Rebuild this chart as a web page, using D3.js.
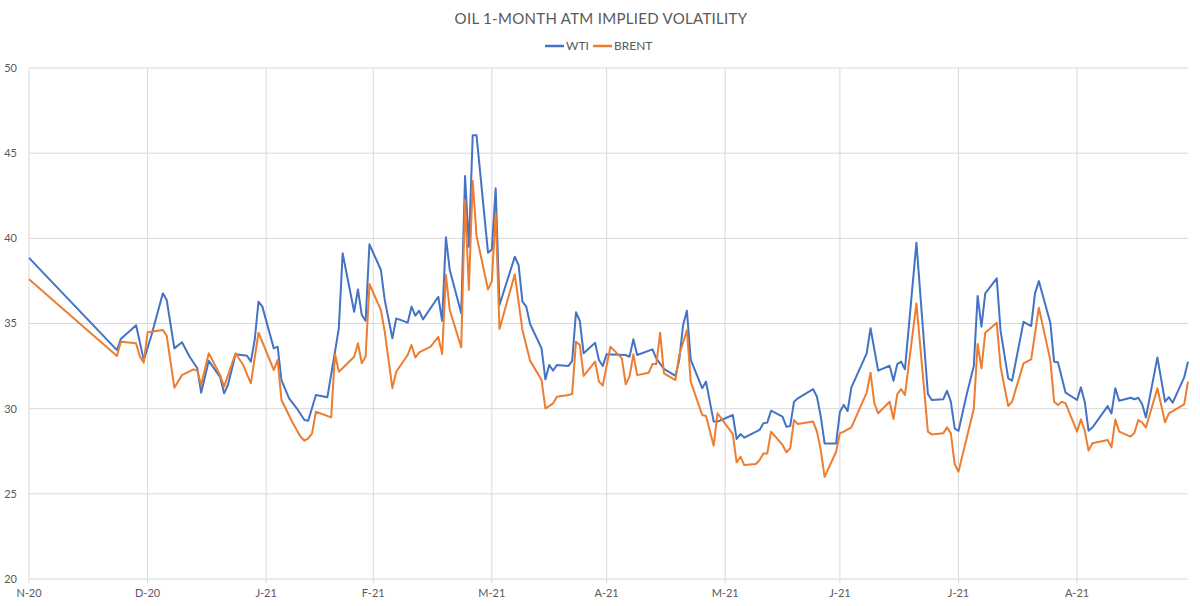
<!DOCTYPE html>
<html>
<head>
<meta charset="utf-8">
<script src="https://cdn.jsdelivr.net/npm/d3@7"></script>
<style>
  html, body { margin: 0; padding: 0; background: #ffffff; }
  svg { display: block; }
  text { font-family: Lato, "Open Sans", "DejaVu Sans", sans-serif; fill: #595959; }
</style>
</head>
<body>
<svg id="chart" width="1200" height="606"></svg>
<script>
// ---------------- DATA ----------------
const chartTitle = "OIL 1-MONTH ATM IMPLIED VOLATILITY";
const seriesNames = ["WTI", "BRENT"];

const xTickDates = ["2020-11-30","2020-12-31","2021-01-31","2021-02-28","2021-03-31","2021-04-30","2021-05-31","2021-06-30","2021-07-31","2021-08-31"];
const xTickLabels = ["N-20","D-20","J-21","F-21","M-21","A-21","M-21","J-21","J-21","A-21"];
const yTicks = [20, 25, 30, 35, 40, 45, 50];

const wtiDates = [
"2020-11-30","2020-12-23","2020-12-24","2020-12-28","2020-12-30","2021-01-01","2021-01-04","2021-01-05","2021-01-07","2021-01-09",
"2021-01-11","2021-01-13","2021-01-14","2021-01-16","2021-01-19","2021-01-20","2021-01-21","2021-01-23","2021-01-26","2021-01-27",
"2021-01-28","2021-01-29","2021-01-30","2021-02-02","2021-02-03","2021-02-04","2021-02-06","2021-02-08","2021-02-10","2021-02-11",
"2021-02-13","2021-02-16","2021-02-18","2021-02-19","2021-02-20","2021-02-23","2021-02-24","2021-02-25","2021-02-26","2021-02-27",
"2021-03-02","2021-03-03","2021-03-05","2021-03-06","2021-03-09","2021-03-10","2021-03-11","2021-03-12","2021-03-13","2021-03-17",
"2021-03-18","2021-03-19","2021-03-20","2021-03-23","2021-03-24","2021-03-25","2021-03-26","2021-03-27","2021-03-30","2021-03-31",
"2021-04-01","2021-04-02","2021-04-06","2021-04-07","2021-04-08","2021-04-09","2021-04-10","2021-04-13","2021-04-14","2021-04-15",
"2021-04-16","2021-04-17","2021-04-20","2021-04-21","2021-04-22","2021-04-23","2021-04-24","2021-04-27","2021-04-28","2021-04-29",
"2021-04-30","2021-05-05","2021-05-06","2021-05-07","2021-05-08","2021-05-12","2021-05-13","2021-05-15","2021-05-18","2021-05-19",
"2021-05-20","2021-05-21","2021-05-22","2021-05-25","2021-05-26","2021-05-28","2021-05-29","2021-06-02","2021-06-03","2021-06-04",
"2021-06-05","2021-06-09","2021-06-10","2021-06-11","2021-06-12","2021-06-15","2021-06-16","2021-06-17","2021-06-18","2021-06-19",
"2021-06-23","2021-06-24","2021-06-25","2021-06-26","2021-06-29","2021-06-30","2021-07-01","2021-07-02","2021-07-03","2021-07-07",
"2021-07-08","2021-07-10","2021-07-13","2021-07-14","2021-07-15","2021-07-16","2021-07-17","2021-07-20","2021-07-23","2021-07-24",
"2021-07-27","2021-07-28","2021-07-29","2021-07-30","2021-07-31","2021-08-02","2021-08-04","2021-08-05","2021-08-06","2021-08-07",
"2021-08-10","2021-08-11","2021-08-13","2021-08-14","2021-08-17","2021-08-19","2021-08-20","2021-08-21","2021-08-24","2021-08-25",
"2021-08-26","2021-08-28","2021-08-31","2021-09-01","2021-09-02","2021-09-03","2021-09-04","2021-09-08","2021-09-09","2021-09-10",
"2021-09-11","2021-09-14","2021-09-15","2021-09-16","2021-09-17","2021-09-18","2021-09-21","2021-09-23","2021-09-24","2021-09-25",
"2021-09-28","2021-09-29"
];
const wtiValues = [
38.85,33.44,34.09,34.9,32.85,34.3,36.77,36.38,33.54,33.9,
33.05,32.37,30.94,32.81,31.85,30.9,31.39,33.19,33.11,32.76,
34.03,36.28,35.99,33.54,33.64,31.68,30.61,30.02,29.33,29.29,
30.8,30.67,33.34,34.72,39.12,35.69,37.0,35.5,35.16,39.65,
38.14,36.38,34.13,35.3,35.05,35.99,35.46,35.75,35.24,36.57,
35.16,40.06,38.14,35.6,43.66,39.51,46.05,46.05,39.16,39.35,
42.94,36.09,38.92,38.43,36.28,35.99,34.97,33.54,31.72,32.56,
32.23,32.56,32.5,32.8,35.66,35.15,33.25,33.87,32.86,32.5,
33.19,33.15,33.05,34.07,33.15,33.48,32.95,32.33,31.92,32.86,
34.91,35.75,32.86,31.2,31.59,29.24,29.24,29.63,28.22,28.51,
28.3,28.75,29.14,29.18,29.88,29.53,28.94,28.98,30.41,30.61,
31.15,30.7,29.53,27.96,27.96,29.82,30.22,29.86,31.25,33.25,
34.72,32.23,32.52,31.64,32.62,32.76,32.31,39.74,30.86,30.51,
30.55,31.05,30.41,28.84,28.69,30.7,32.5,36.62,34.81,36.77,
37.65,34.58,31.78,31.64,35.1,34.85,36.77,37.49,35.05,32.76,
32.72,30.94,30.51,31.25,30.41,28.71,28.89,30.15,29.72,31.2,
30.47,30.64,30.55,30.64,30.27,29.49,33.01,30.41,30.67,30.35,
31.84,32.76
];

const brentDates = [
"2020-11-30","2020-12-23","2020-12-24","2020-12-28","2020-12-29","2020-12-30","2020-12-31","2021-01-04","2021-01-05","2021-01-07",
"2021-01-09","2021-01-12","2021-01-13","2021-01-14","2021-01-16","2021-01-19","2021-01-20","2021-01-23","2021-01-25","2021-01-27",
"2021-01-29","2021-02-02","2021-02-03","2021-02-04","2021-02-07","2021-02-09","2021-02-10","2021-02-11","2021-02-12","2021-02-13",
"2021-02-17","2021-02-18","2021-02-19","2021-02-23","2021-02-24","2021-02-25","2021-02-26","2021-02-27","2021-03-02","2021-03-03",
"2021-03-05","2021-03-06","2021-03-09","2021-03-10","2021-03-11","2021-03-12","2021-03-15","2021-03-17","2021-03-18","2021-03-19",
"2021-03-20","2021-03-23","2021-03-24","2021-03-25","2021-03-26","2021-03-27","2021-03-30","2021-03-31","2021-04-01","2021-04-02",
"2021-04-06","2021-04-08","2021-04-10","2021-04-13","2021-04-14","2021-04-15","2021-04-16","2021-04-17","2021-04-20","2021-04-21",
"2021-04-22","2021-04-23","2021-04-24","2021-04-27","2021-04-28","2021-04-29","2021-05-01","2021-05-04","2021-05-05","2021-05-06",
"2021-05-07","2021-05-08","2021-05-11","2021-05-12","2021-05-13","2021-05-14","2021-05-15","2021-05-18","2021-05-19","2021-05-21",
"2021-05-22","2021-05-25","2021-05-26","2021-05-28","2021-05-29","2021-06-02","2021-06-03","2021-06-04","2021-06-05","2021-06-08",
"2021-06-09","2021-06-10","2021-06-11","2021-06-12","2021-06-15","2021-06-16","2021-06-17","2021-06-18","2021-06-19","2021-06-23",
"2021-06-24","2021-06-25","2021-06-26","2021-06-29","2021-06-30","2021-07-01","2021-07-03","2021-07-07","2021-07-08","2021-07-09",
"2021-07-10","2021-07-13","2021-07-14","2021-07-15","2021-07-16","2021-07-17","2021-07-20","2021-07-23","2021-07-24","2021-07-27",
"2021-07-28","2021-07-29","2021-07-30","2021-07-31","2021-08-04","2021-08-05","2021-08-06","2021-08-07","2021-08-10","2021-08-11",
"2021-08-13","2021-08-14","2021-08-17","2021-08-19","2021-08-21","2021-08-24","2021-08-25","2021-08-26","2021-08-27","2021-08-28",
"2021-08-31","2021-09-01","2021-09-02","2021-09-03","2021-09-04","2021-09-08","2021-09-09","2021-09-10","2021-09-11","2021-09-14",
"2021-09-15","2021-09-16","2021-09-17","2021-09-18","2021-09-21","2021-09-23","2021-09-24","2021-09-28","2021-09-29"
];
const brentValues = [
37.6,33.09,33.93,33.84,33.05,32.7,34.48,34.62,34.28,31.23,
31.97,32.31,32.23,31.39,33.25,31.95,31.29,33.25,32.56,31.49,
34.46,32.27,32.86,30.51,29.14,28.35,28.12,28.26,28.55,29.82,
29.49,33.21,32.17,33.05,33.84,32.66,33.05,37.32,35.79,34.52,
31.2,32.17,33.15,33.74,33.0,33.31,33.64,34.22,33.21,37.85,
35.79,33.6,42.25,36.97,43.38,40.14,37.0,37.49,41.47,34.68,
37.89,34.62,32.82,31.68,30.02,30.15,30.31,30.7,30.8,30.86,
33.93,33.74,31.92,32.76,31.59,31.35,33.64,32.95,31.43,31.88,
33.19,31.97,32.11,32.62,32.62,34.46,32.07,31.68,33.15,34.62,
31.59,29.63,29.57,27.83,29.73,28.51,26.85,27.18,26.69,26.75,
26.98,27.37,27.37,28.65,27.87,27.44,27.67,29.33,29.1,29.24,
28.65,27.57,26.0,27.47,28.55,28.65,28.9,30.94,32.11,30.31,
29.73,30.41,29.39,30.86,31.15,30.8,36.18,28.65,28.49,28.55,
28.9,28.55,26.75,26.3,30.0,33.8,32.37,34.46,35.05,32.47,
30.15,30.41,32.66,32.89,35.93,32.85,30.41,30.21,30.41,30.31,
28.65,29.37,28.71,27.54,27.97,28.16,27.73,29.37,28.65,28.36,
28.59,29.33,29.2,28.89,31.2,29.2,29.72,30.25,31.59
];

const seriesColors = ["#4472C4", "#ED7D31"];

// ---------------- CHART ----------------
const parse = d3.timeParse("%Y-%m-%d");
const svg = d3.select("#chart");
const plot = { left: 29, right: 1188, top: 68, bottom: 579 };

const wti = wtiDates.map((d, i) => ({ date: parse(d), value: wtiValues[i] }));
const brent = brentDates.map((d, i) => ({ date: parse(d), value: brentValues[i] }));

const x = d3.scaleTime()
  .domain([parse(wtiDates[0]), parse(wtiDates[wtiDates.length - 1])])
  .range([plot.left, plot.right]);
const y = d3.scaleLinear().domain([20, 50]).range([plot.bottom, plot.top]);

// horizontal gridlines
svg.append("g")
  .selectAll("line")
  .data(yTicks)
  .join("line")
  .attr("x1", plot.left).attr("x2", plot.right)
  .attr("y1", d => y(d)).attr("y2", d => y(d))
  .attr("stroke", "#d9d9d9").attr("stroke-width", 1);

// vertical gridlines
const tickDates = xTickDates.map(parse);
svg.append("g")
  .selectAll("line")
  .data(tickDates)
  .join("line")
  .attr("x1", d => x(d)).attr("x2", d => x(d))
  .attr("y1", plot.top).attr("y2", plot.bottom + 4)
  .attr("stroke", "#d9d9d9").attr("stroke-width", 1);

// y axis labels
svg.append("g")
  .selectAll("text")
  .data(yTicks)
  .join("text")
  .attr("x", 17).attr("y", d => y(d))
  .attr("dy", "0.35em")
  .attr("text-anchor", "end")
  .style("font-size", "11px")
  .text(d => d);

// x axis labels
svg.append("g")
  .selectAll("text")
  .data(tickDates)
  .join("text")
  .attr("x", d => x(d)).attr("y", 593)
  .attr("dy", "0.35em")
  .attr("text-anchor", "middle")
  .style("font-size", "11px")
  .text((d, i) => xTickLabels[i]);

// lines: WTI first, BRENT drawn on top
const line = d3.line().x(d => x(d.date)).y(d => y(d.value));
[wti, brent].forEach((s, k) => {
  svg.append("path")
    .datum(s)
    .attr("fill", "none")
    .attr("stroke", seriesColors[k])
    .attr("stroke-width", 2)
    .attr("stroke-linejoin", "round")
    .attr("d", line);
});

// title
svg.append("text")
  .attr("x", 601).attr("y", 19)
  .attr("dy", "0.35em")
  .attr("text-anchor", "middle")
  .style("font-size", "15px")
  .style("letter-spacing", "0.3px")
  .text(chartTitle);

// legend
const legend = svg.append("g");
const legendItems = [
  { name: seriesNames[0], color: seriesColors[0], x: 545 },
  { name: seriesNames[1], color: seriesColors[1], x: 593 }
];
legendItems.forEach(it => {
  legend.append("line")
    .attr("x1", it.x).attr("x2", it.x + 19)
    .attr("y1", 46).attr("y2", 46)
    .attr("stroke", it.color).attr("stroke-width", 2.5);
  legend.append("text")
    .attr("x", it.x + 21).attr("y", 46)
    .attr("dy", "0.35em")
    .style("font-size", "12px")
    .text(it.name);
});
</script>
</body>
</html>
